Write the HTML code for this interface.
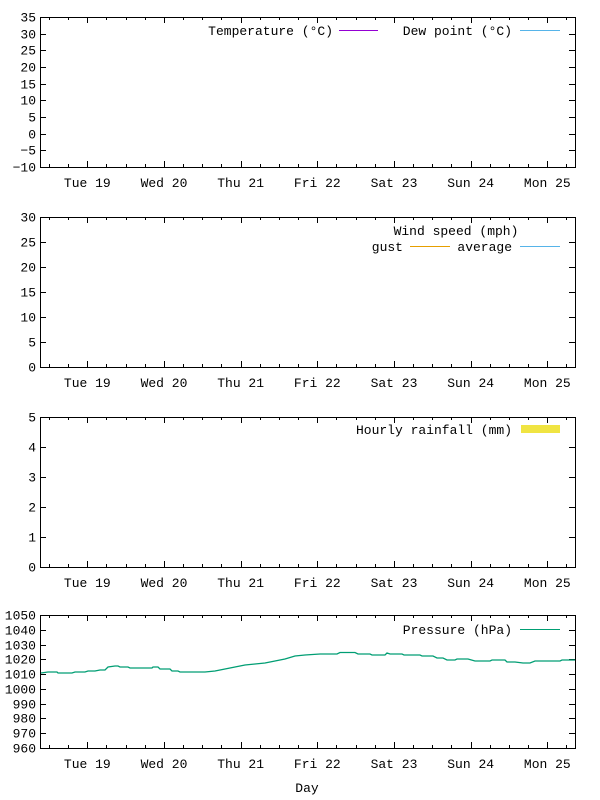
<!DOCTYPE html>
<html><head><meta charset="utf-8"><style>
html,body{margin:0;padding:0;background:#fff;}
svg{display:block;}
text{font-family:"Liberation Mono","DejaVu Sans Mono",monospace;font-size:13px;fill:#000;}
</style></head><body>
<svg width="600" height="800" viewBox="0 0 600 800" xmlns="http://www.w3.org/2000/svg">
<g id="frames" fill="none" stroke="#000" stroke-width="1">
<rect x="40.5" y="17.5" width="535" height="150"/>
<rect x="40.5" y="217.5" width="535" height="150"/>
<rect x="40.5" y="417.5" width="535" height="150"/>
<rect x="40.5" y="615.5" width="535" height="133"/>
</g>
<g stroke="#000" stroke-width="1" id="ticks"></g>
<g id="labels"></g>
<text x="333" y="35" text-anchor="end">Temperature (°C)</text>
<line x1="339" y1="30.5" x2="378" y2="30.5" stroke="#9400d3"/>
<text x="512" y="35" text-anchor="end">Dew point (°C)</text>
<line x1="520" y1="30.5" x2="560" y2="30.5" stroke="#56b4e9"/>
<text x="456" y="235" text-anchor="middle">Wind speed (mph)</text>
<text x="403" y="251" text-anchor="end">gust</text>
<line x1="410" y1="246.5" x2="450" y2="246.5" stroke="#e69f00"/>
<text x="512" y="251" text-anchor="end">average</text>
<line x1="520" y1="246.5" x2="560" y2="246.5" stroke="#56b4e9"/>
<text x="512" y="434" text-anchor="end">Hourly rainfall (mm)</text>
<rect x="521" y="425" width="39" height="8" fill="#f0e442"/>
<text x="512" y="634" text-anchor="end">Pressure (hPa)</text>
<line x1="520" y1="629.5" x2="560" y2="629.5" stroke="#009e73"/>
<text x="307" y="792" text-anchor="middle">Day</text>
<polyline fill="none" stroke="#009e73" stroke-width="1.3" points="41,673 48,672 57,672 58,673 72,673 75,672 85,672 88,671 95,671 100,670 105,670 108,667 115,666 118,666 120,667 128,667 130,668 152,668 153,667 158,667 160,669 170,669 172,671 178,671 180,672 205,672 215,671 225,669 235,667 245,665 255,664 265,663 275,661 285,659 295,656 305,655 320,654 337,654 340,652.5 355,652.5 358,654 370,654 372,655 385,655 387,653 390,654 402,654 404,655 420,655 422,656 433,656 437,658 443,658 447,660 455,660 457,659 468,659 475,661 490,661 492,660 505,660 507,662 515,662 523,663 530,663 535,661 560,661 562,660 575,660"/>
</svg>
<script>
(function(){
var ns="http://www.w3.org/2000/svg";
var tg=document.getElementById("ticks"),lg=document.getElementById("labels");
function line(x1,y1,x2,y2){var l=document.createElementNS(ns,"line");l.setAttribute("x1",x1);l.setAttribute("y1",y1);l.setAttribute("x2",x2);l.setAttribute("y2",y2);tg.appendChild(l);}
function text(x,y,s,a){var t=document.createElementNS(ns,"text");t.setAttribute("x",x);t.setAttribute("y",y);t.setAttribute("text-anchor",a);t.textContent=s;lg.appendChild(t);}
var panels=[{t:17,b:167,v:[-10,-5,0,5,10,15,20,25,30,35]},{t:217,b:367,v:[0,5,10,15,20,25,30]},{t:417,b:567,v:[0,1,2,3,4,5]},{t:615,b:748,v:[960,970,980,990,1000,1010,1020,1030,1040,1050]}];
var days=["Tue 19","Wed 20","Thu 21","Fri 22","Sat 23","Sun 24","Mon 25"];
var d0=87.3,dw=76.67;
panels.forEach(function(p){
 var n=p.v.length-1;
 p.v.forEach(function(v,i){var y=Math.round(p.b-(p.b-p.t)*i/n)+0.5;
  if(i>0&&i<n){line(40,y,46,y);line(569,y,575,y);}
  text(36,y+4,String(v).replace("-","\u2212"),"end");});
 for(var k=-3;k<30;k++){var x=d0+k*dw/4;if(x<=41||x>=575)continue;x=Math.round(x)+0.5;var len=(k%4==0)?6:3;line(x,p.b,x,p.b-len);line(x,p.t,x,p.t+len);}
 days.forEach(function(d,i){text(d0+i*dw,p.b+20,d,"middle");});
});
})();
</script>
</body></html>
